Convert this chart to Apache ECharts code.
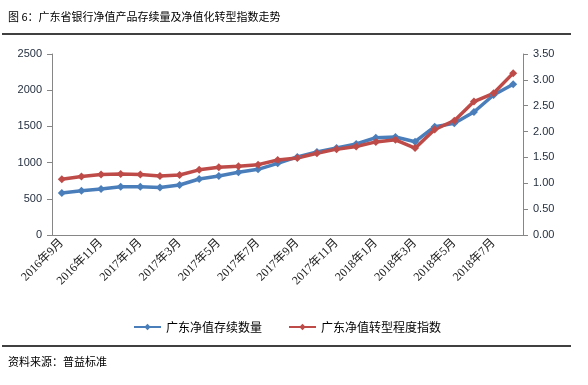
<!DOCTYPE html>
<html><head><meta charset="utf-8">
<script src="https://cdn.jsdelivr.net/npm/echarts@6/dist/echarts.min.js"></script>
<style>html,body{margin:0;padding:0;background:#fff}#c{width:588px;height:385px}</style>
</head><body><div id="c"></div>
<script>
var categories = ['2016年9月','2016年10月','2016年11月','2016年12月','2017年1月','2017年2月','2017年3月','2017年4月','2017年5月','2017年6月','2017年7月','2017年8月','2017年9月','2017年10月','2017年11月','2017年12月','2018年1月','2018年2月','2018年3月','2018年4月','2018年5月','2018年6月','2018年7月','2018年8月'];
var stockVolume = [580, 610, 635, 667, 667, 657, 690, 773, 815, 866, 907, 990, 1078, 1146, 1202, 1257, 1344, 1353, 1289, 1496, 1542, 1699, 1934, 2081];
var transformIndex = [1.08, 1.13, 1.17, 1.18, 1.17, 1.14, 1.16, 1.26, 1.31, 1.33, 1.36, 1.45, 1.49, 1.58, 1.66, 1.71, 1.80, 1.84, 1.68, 2.04, 2.21, 2.58, 2.74, 3.13];
var seriesNames = ['广东净值存续数量', '广东净值转型程度指数'];
var titleText = '图 6：广东省银行净值产品存续量及净值化转型指数走势';
var sourceText = '资料来源：普益标准';

var chart = echarts.init(document.getElementById('c'), null, {renderer: 'canvas'});
var lblFont = 'Liberation Sans, DejaVu Sans, sans-serif';
var cjk = 'Noto Sans CJK SC, sans-serif';
chart.setOption({
  animation: false,
  backgroundColor: '#fff',
  graphic: [
    {type: 'text', left: 8, top: 11, style: {text: titleText, font: '11px ' + cjk, fill: '#000'}},
    {type: 'line', shape: {x1: 2, y1: 34, x2: 571, y2: 34}, style: {stroke: '#000', lineWidth: 1.5}},
    {type: 'line', shape: {x1: 2, y1: 346, x2: 571, y2: 346}, style: {stroke: '#000', lineWidth: 1.5}},
    {type: 'text', left: 8, top: 356, style: {text: sourceText, font: '11px ' + cjk, fill: '#000'}}
  ],
  legend: {
    left: 128, top: 316, itemWidth: 27, itemHeight: 8, itemGap: 26,
    textStyle: {fontFamily: cjk, fontSize: 12, color: '#000'},
    data: seriesNames
  },
  grid: {left: 52, right: 65, top: 54, bottom: 150, containLabel: false},
  xAxis: {
    type: 'category', data: categories, boundaryGap: true,
    axisLine: {lineStyle: {color: '#868686', width: 1}},
    axisTick: {interval: 1, length: 5, lineStyle: {color: '#868686'}},
    axisLabel: {interval: 1, rotate: 45, fontSize: 12, color: '#222', fontFamily: 'Liberation Serif, Noto Sans CJK SC, serif', margin: 6}
  },
  yAxis: [
    {type: 'value', min: 0, max: 2500, interval: 500,
     axisLine: {show: true, lineStyle: {color: '#868686'}},
     axisTick: {show: true, length: 5, lineStyle: {color: '#868686'}},
     splitLine: {show: false},
     axisLabel: {fontSize: 11, color: '#1f2a3a', fontFamily: lblFont, margin: 10,
       formatter: function (v) { return String(v); }}},
    {type: 'value', min: 0, max: 3.5, interval: 0.5, position: 'right',
     axisLine: {show: true, lineStyle: {color: '#868686'}},
     axisTick: {show: true, length: 5, lineStyle: {color: '#868686'}},
     splitLine: {show: false},
     axisLabel: {fontSize: 11, color: '#1f2a3a', fontFamily: lblFont, margin: 10,
       formatter: function (v) { return v.toFixed(2); }}}
  ],
  series: [
    {name: seriesNames[0], type: 'line', yAxisIndex: 0, data: stockVolume,
     symbol: 'diamond', symbolSize: 8, color: '#4a7ebb',
     lineStyle: {width: 3.5, color: '#4a7ebb'}, itemStyle: {color: '#4a7ebb'}},
    {name: seriesNames[1], type: 'line', yAxisIndex: 1, data: transformIndex,
     symbol: 'diamond', symbolSize: 8, color: '#be4b48',
     lineStyle: {width: 3.5, color: '#be4b48'}, itemStyle: {color: '#be4b48'}}
  ]
});
</script></body></html>
